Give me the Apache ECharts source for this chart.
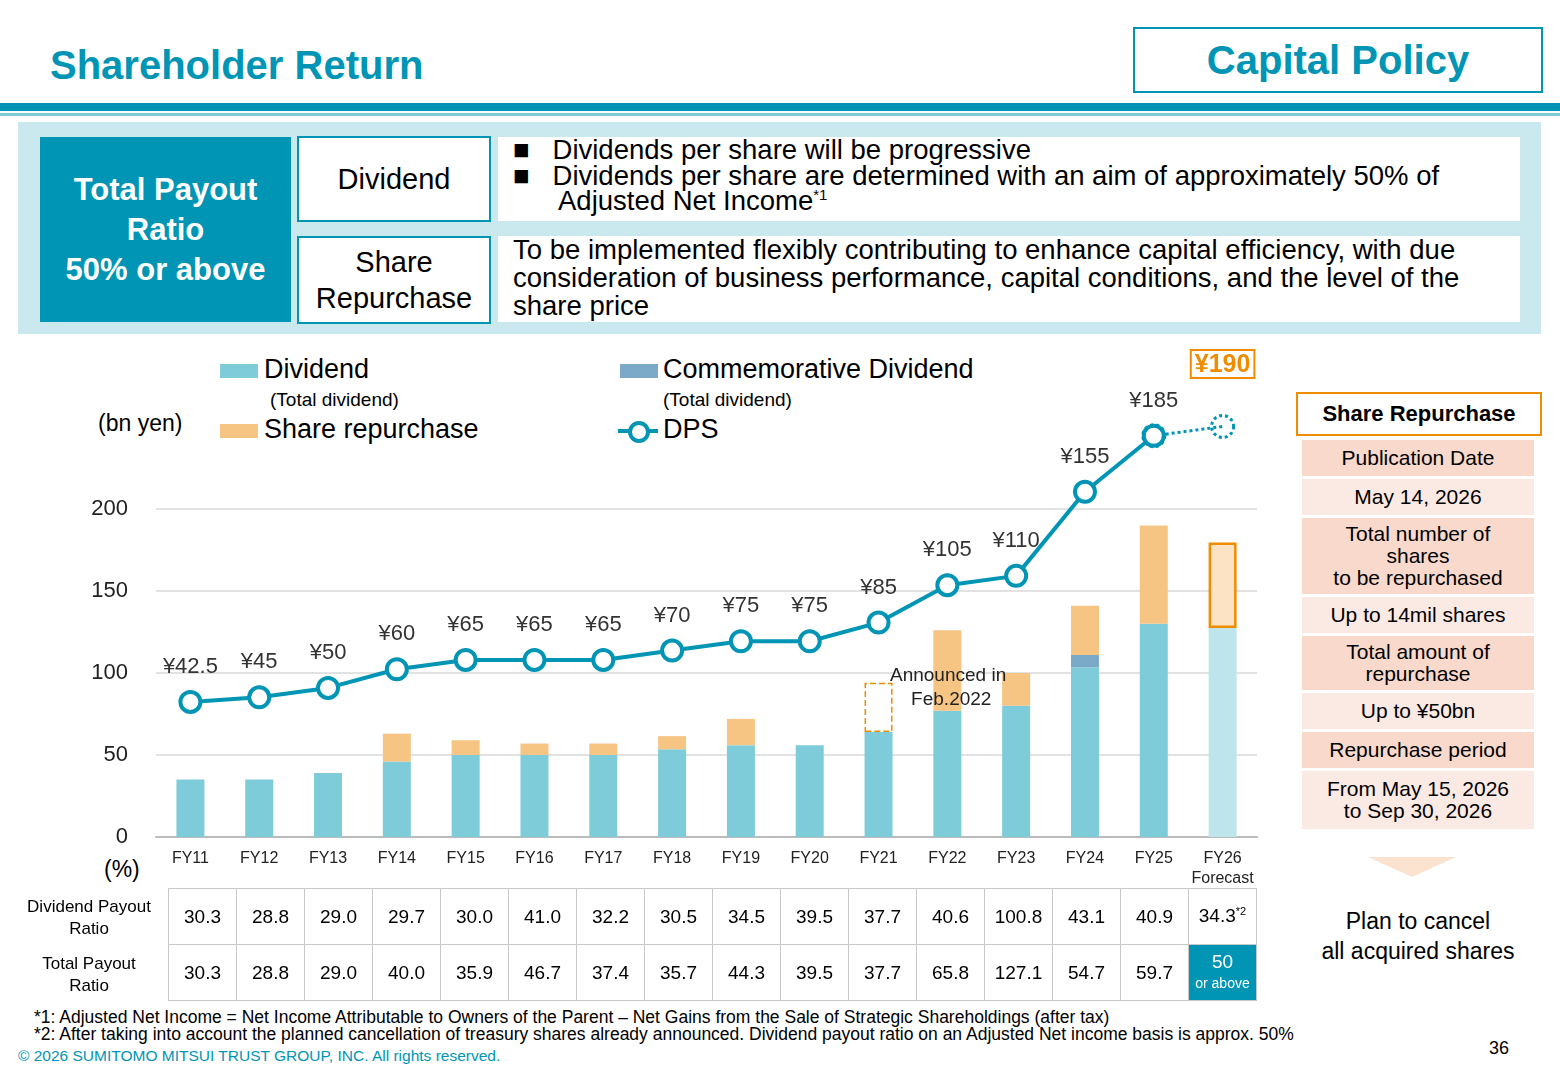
<!doctype html>
<html>
<head>
<meta charset="utf-8">
<title>Shareholder Return</title>
<script src="https://cdn.jsdelivr.net/npm/echarts@6/dist/echarts.min.js"></script>
<style>
  body {margin:0;width:1560px;height:1080px;position:relative;font-family:Arial,"Liberation Sans",sans-serif;background:#fff;overflow:hidden;}
  .abs {position:absolute;}
  #main {position:absolute;left:0;top:340px;width:1290px;height:560px;}
  .teal {color:#0095B4;}
  table.t {position:absolute;border-collapse:collapse;font-size:19px;table-layout:fixed;width:1089px;}
  table.t td {border:1px solid #c8c8c8;text-align:center;height:55px;padding:0;}
  .rp div {background:#F8D9CC;text-align:center;font-size:21px;line-height:22px;margin-bottom:3px;display:flex;align-items:center;justify-content:center;}
  .rp div.l {background:#FBEAE4;}
</style>
</head>
<body>
<div class="abs teal" style="left:50px;top:43px;font-size:40px;font-weight:bold;">Shareholder Return</div>
<div class="abs teal" style="left:1133px;top:27px;width:406px;height:62px;border:2px solid #0095B4;font-size:40px;font-weight:bold;text-align:center;line-height:62px;">Capital Policy</div>
<div class="abs" style="left:0;top:103px;width:1560px;height:8px;background:#0095B4;"></div>
<div class="abs" style="left:0;top:113px;width:1560px;height:3px;background:#7ECCD9;"></div>
<div class="abs" style="left:18px;top:122px;width:1523px;height:212px;background:#C9E9EF;"></div>
<div class="abs" style="left:40px;top:137px;width:251px;height:185px;background:#0095B4;color:#fff;font-size:31px;font-weight:bold;text-align:center;display:flex;align-items:center;justify-content:center;line-height:40px;">Total Payout<br>Ratio<br>50% or above</div>
<div class="abs" style="left:297px;top:136px;width:190px;height:82px;border:2px solid #0095B4;background:#fff;font-size:29px;text-align:center;line-height:82px;">Dividend</div>
<div class="abs" style="left:297px;top:236px;width:194px;height:88px;border:2px solid #0095B4;background:#fff;font-size:29px;text-align:center;line-height:36px;padding-top:6px;box-sizing:border-box;">Share<br>Repurchase</div>
<div class="abs" style="left:498px;top:137px;width:1022px;height:84px;background:#fff;font-size:27.5px;line-height:26px;">
  <div style="padding-left:15px;">■&nbsp;&nbsp; Dividends per share will be progressive</div>
  <div style="padding-left:15px;">■&nbsp;&nbsp; Dividends per share are determined with an aim of approximately 50% of</div>
  <div style="padding-left:60px;line-height:24px;">Adjusted Net Income<sup style="font-size:15px;line-height:0;">*1</sup></div>
</div>
<div class="abs" style="left:498px;top:236px;width:1022px;height:86px;background:#fff;font-size:27.5px;line-height:28px;padding:0 40px 0 15px;box-sizing:border-box;">To be implemented flexibly contributing to enhance capital efficiency, with due consideration of business performance, capital conditions, and the level of the share price</div>

<!-- legend -->
<div class="abs" style="left:220px;top:364px;width:38px;height:14px;background:#7ECCD9;"></div>
<div class="abs" style="left:264px;top:354px;font-size:27px;">Dividend</div>
<div class="abs" style="left:270px;top:389px;font-size:19px;">(Total dividend)</div>
<div class="abs" style="left:220px;top:424px;width:38px;height:14px;background:#F6C483;"></div>
<div class="abs" style="left:264px;top:414px;font-size:27px;">Share repurchase</div>
<div class="abs" style="left:620px;top:364px;width:38px;height:14px;background:#7BAAC8;"></div>
<div class="abs" style="left:663px;top:354px;font-size:27px;">Commemorative Dividend</div>
<div class="abs" style="left:663px;top:389px;font-size:19px;">(Total dividend)</div>
<div class="abs" style="left:618px;top:429px;width:40px;height:4px;background:#0095B4;"></div>
<div class="abs" style="left:628px;top:421px;width:14px;height:14px;border:4px solid #0095B4;border-radius:50%;background:#fff;"></div>
<div class="abs" style="left:663px;top:414px;font-size:27px;">DPS</div>
<div class="abs" style="left:98px;top:410px;font-size:23px;">(bn yen)</div>
<div class="abs" style="left:104px;top:856px;font-size:23px;">(%)</div>

<div id="main"></div>

<div class="abs" style="left:0;top:896px;width:178px;text-align:center;font-size:17px;line-height:22px;">Dividend Payout<br>Ratio</div>
<div class="abs" style="left:0;top:953px;width:178px;text-align:center;font-size:17px;line-height:22px;">Total Payout<br>Ratio</div>
<table class="t" id="tbl" style="left:168px;top:888px;"></table>

<div class="abs rp" style="left:1302px;top:440px;width:232px;">
  <div style="height:36px;">Publication Date</div>
  <div class="l" style="height:36px;">May 14, 2026</div>
  <div style="height:76px;">Total number of<br>shares<br>to be repurchased</div>
  <div class="l" style="height:36px;">Up to 14mil shares</div>
  <div style="height:54px;">Total amount of<br>repurchase</div>
  <div class="l" style="height:36px;">Up to ¥50bn</div>
  <div style="height:36px;">Repurchase period</div>
  <div class="l" style="height:58px;">From May 15, 2026<br>to Sep 30, 2026</div>
</div>
<div class="abs" style="left:1296px;top:392px;width:242px;height:40px;border:2px solid #F08C00;font-size:22px;font-weight:bold;text-align:center;line-height:40px;">Share Repurchase</div>
<div class="abs" style="left:1368px;top:857px;width:0;height:0;border-left:44px solid transparent;border-right:44px solid transparent;border-top:20px solid #FBE3CF;"></div>
<div class="abs" style="left:1300px;top:906px;width:236px;text-align:center;font-size:23px;line-height:30px;">Plan to cancel<br>all acquired shares</div>

<div class="abs" style="left:34px;top:1009px;font-size:17.5px;line-height:17px;">*1: Adjusted Net Income = Net Income Attributable to Owners of the Parent – Net Gains from the Sale of Strategic Shareholdings (after tax)<br>*2: After taking into account the planned cancellation of treasury shares already announced. Dividend payout ratio on an Adjusted Net income basis is approx. 50%</div>
<div class="abs teal" style="left:18px;top:1047px;font-size:15.5px;">© 2026 SUMITOMO MITSUI TRUST GROUP, INC. All rights reserved.</div>
<div class="abs" style="left:1489px;top:1038px;font-size:18px;">36</div>

<script>
"use strict";
var categories = ['FY11','FY12','FY13','FY14','FY15','FY16','FY17','FY18','FY19','FY20','FY21','FY22','FY23','FY24','FY25','FY26\nForecast'];
var dividend = [35, 35, 39, 46, 50, 50, 50, 53.5, 56, 56, 64, 77, 80, 103.5, 130, 127.5];
var commemorative = ['-', '-', '-', '-', '-', '-', '-', '-', '-', '-', '-', '-', '-', 7.5, '-', '-'];
var repurchase = ['-', '-', '-', 17, 9, 7, 7, 8, 16, '-', '-', 49, 20, 30, 60, 52];
var announced = ['-', '-', '-', '-', '-', '-', '-', '-', '-', '-', 30, '-', '-', '-', '-', '-'];
var dps = [42.5, 45, 50, 60, 65, 65, 65, 70, 75, 75, 85, 105, 110, 155, 185, 190];
var dpsLabels = ['¥42.5','¥45','¥50','¥60','¥65','¥65','¥65','¥70','¥75','¥75','¥85','¥105','¥110','¥155','¥185','¥190'];
var payoutRatio = ['30.3','28.8','29.0','29.7','30.0','41.0','32.2','30.5','34.5','39.5','37.7','40.6','100.8','43.1','40.9','34.3<sup style="font-size:11px">*2</sup>'];
var totalPayout = ['30.3','28.8','29.0','40.0','35.9','46.7','37.4','35.7','44.3','39.5','37.7','65.8','127.1','54.7','59.7','50'];

// table
var tbl = document.getElementById('tbl');
tbl.innerHTML = '<tr>' + payoutRatio.map(function(v){return '<td>'+v+'</td>';}).join('') + '</tr>' +
  '<tr>' + totalPayout.map(function(v,i){
    return i === totalPayout.length-1
      ? '<td style="background:#0095B4;color:#fff;line-height:20px;">'+v+'<br><span style="font-size:14px">or above</span></td>'
      : '<td>'+v+'</td>';
  }).join('') + '</tr>';

var last = categories.length - 1;
function fy26(arr, style) {
  return arr.map(function(v, i){ return i === last ? {value: v, itemStyle: style} : v; });
}

// forecast segment: FY25 -> FY26, label only on FY26
var forecastData = dps.map(function(v, i){
  if (i === last) {
    return {value: v, label: {show: true, position: 'top', distance: 36, fontSize: 25, fontWeight: 'bold', color: '#F08C00',
      padding: [3, 4, 0, 4], borderColor: '#F08C00', borderWidth: 2, formatter: dpsLabels[last]}};
  }
  return i === last - 1 ? v : '-';
});

var myChart = echarts.init(document.getElementById('main'));
myChart.setOption({
  animation: false,
  textStyle: {fontFamily: 'Arial'},
  grid: {left: 156, right: 33, top: 169, bottom: 63},
  xAxis: {
    type: 'category', data: categories,
    axisLine: {lineStyle: {color: '#bbb', width: 2}}, axisTick: {show: false},
    axisLabel: {color: '#222', fontSize: 16, lineHeight: 20, margin: 12, interval: 0}
  },
  yAxis: [{
    type: 'value', min: 0, max: 200, interval: 50,
    axisLabel: {color: '#222', fontSize: 22, margin: 28},
    splitLine: {lineStyle: {color: '#d8d8d8', width: 1.5}}
  }, {
    type: 'value', min: -29.8, max: 145.8, show: false, splitLine: {show: false}
  }],
  series: [{
    type: 'bar', stack: 's', barWidth: 28, data: fy26(dividend, {color: '#BFE5EC'}),
    itemStyle: {color: '#7ECCD9'}
  }, {
    type: 'bar', stack: 's', data: commemorative, itemStyle: {color: '#7BAAC8'}
  }, {
    type: 'bar', stack: 's', data: fy26(repurchase, {color: '#FBE3C3', borderColor: '#F08C00', borderWidth: 2.5}),
    itemStyle: {color: '#F6C483'}
  }, {
    type: 'bar', stack: 's', data: announced,
    itemStyle: {color: 'rgba(0,0,0,0)', borderColor: '#F08C00', borderWidth: 1.5, borderType: 'dashed'}
  }, {
    type: 'line', yAxisIndex: 1, clip: false, z: 5,
    data: dps.slice(0, last).concat(['-']),
    symbol: 'circle', symbolSize: 20,
    lineStyle: {color: '#0095B4', width: 4},
    itemStyle: {color: '#fff', borderColor: '#0095B4', borderWidth: 4},
    label: {show: true, position: 'top', distance: 12, fontSize: 22, color: '#333',
      formatter: function(p){ return dpsLabels[p.dataIndex]; }}
  }, {
    type: 'line', yAxisIndex: 1, clip: false, z: 4,
    data: forecastData,
    symbol: 'circle', symbolSize: 22, showSymbol: true,
    lineStyle: {color: '#0095B4', width: 3, type: 'dotted'},
    itemStyle: {color: 'rgba(0,0,0,0)', borderColor: '#0095B4', borderWidth: 3, borderType: 'dotted'},
    label: {show: false}
  }],
  graphic: [{
    type: 'text', left: 890, top: 324, z: 100,
    style: {text: 'Announced in\n    Feb.2022', font: '19px Arial', fill: '#222', lineHeight: 24}
  }]
});
</script>
</body>
</html>
